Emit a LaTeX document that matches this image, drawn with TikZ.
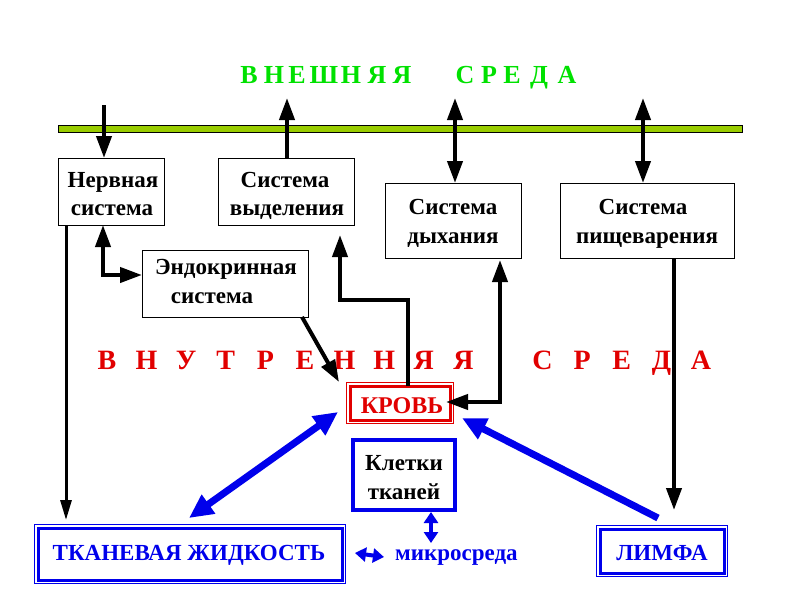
\documentclass[tikz,border=0pt]{standalone}
\usepackage{fontspec}
\setmainfont{Liberation Serif}
\usetikzlibrary{arrows.meta,calc}
\definecolor{grn}{RGB}{0,225,0}
\definecolor{redc}{RGB}{225,0,0}
\definecolor{blu}{RGB}{0,0,235}
\definecolor{barc}{RGB}{153,204,0}
\begin{document}
\begin{tikzpicture}[x=1pt,y=-1pt,
  box/.style={draw=black, line width=1pt, inner sep=0pt, outer sep=0pt},
  bt/.style={font=\fontsize{23}{28}\selectfont\bfseries, anchor=base, inner sep=0pt},
  ttl/.style={font=\fontsize{26}{30}\selectfont\bfseries, text=grn, anchor=base, inner sep=0pt},
  intl/.style={font=\fontsize{28}{32}\selectfont\bfseries, text=redc, anchor=base, inner sep=0pt},
  blk/.style={draw=black, line width=4pt, miter limit=10, >={Triangle[width=15pt,length=22pt]}},
  blkt/.style={draw=black, line width=3pt, >={Triangle[width=11pt,length=20pt]}},
  bl/.style={draw=blu, line width=7pt, >={Triangle[width=22pt,length=24pt]}},
  bsm/.style={draw=blu, line width=4pt, >={Triangle[width=14pt,length=11pt]}}
]
\useasboundingbox (0,0) rectangle (800,600);

% title
\foreach \x/\l [count=\i] in {249/В,274/Н,297/Е,324/Ш,351/Н,377/Я,402/Я,465/С,489/Р,512/Е,539/Д,567/А}
  \node[ttl] (ext\i) at (\x,83) {\l};

% inner environment title
\foreach \k/\l [count=\i] in {0/В,1/Н,2/У,3/Т,4/Р,5/Е,6/Н,7/Н,8/Я,9/Я,11/С,12/Р,13/Е,14/Д,15/А}
  \node[intl] (int\i) at ({107+39.6*\k},369) {\l};

% green bar
\node[draw=black, line width=1pt, fill=barc, inner sep=0pt, outer sep=0pt,
      minimum width=684pt, minimum height=7pt] (bar) at (400,128.5) {};

% boxes
\node[box, minimum width=106pt, minimum height=67pt] (nerv) at (111,191.5) {};
\node[box, minimum width=136pt, minimum height=67pt] (vyd) at (286,191.5) {};
\node[box, minimum width=136pt, minimum height=75pt] (dyh) at (453,220.5) {};
\node[box, minimum width=174pt, minimum height=75pt] (pish) at (647,220.5) {};
\node[box, minimum width=166pt, minimum height=67pt] (endo) at (225,283.5) {};

\node[bt] (nerv1) at (113,187) {Нервная};
\node[bt] (nerv2) at (112,215) {система};
\node[bt] (vyd1) at (285,187) {Система};
\node[bt] (vyd2) at (287,215) {выделения};
\node[bt] (dyh1) at (453,214) {Система};
\node[bt] (dyh2) at (453,243) {дыхания};
\node[bt] (pish1) at (643,214) {Система};
\node[bt] (pish2) at (647,243) {пищеварения};
\node[bt] (endo1) at (226,274) {Эндокринная};
\node[bt] (endo2) at (212,303) {система};

% blood
\node[draw=redc, line width=3pt, inner sep=0pt, outer sep=0pt,
      minimum width=100pt, minimum height=34pt] (krov) at (400,403) {};
\draw[redc, line width=1.2pt] ($(krov.north west)+(-3.5,-3.5)$) rectangle ($(krov.south east)+(3.5,3.5)$);
\node[bt, text=redc, font=\fontsize{24}{28}\selectfont\bfseries] (krovt) at (402,413) {КРОВЬ};

% cells
\node[draw=blu, line width=4pt, inner sep=0pt, outer sep=0pt,
      minimum width=102pt, minimum height=70pt] (klet) at (403.5,474.5) {};
\node[bt] (klet1) at (404,470) {Клетки};
\node[bt] (klet2) at (404,499) {тканей};

% tissue fluid
\node[draw=blu, line width=3pt, inner sep=0pt, outer sep=0pt,
      minimum width=304pt, minimum height=52pt] (tkan) at (190,554) {};
\draw[blu, line width=1.2pt] ($(tkan.north west)+(-3.5,-3.5)$) rectangle ($(tkan.south east)+(3.5,3.5)$);
\node[bt, text=blu] (tkant) at (189,560) {ТКАНЕВАЯ ЖИДКОСТЬ};

% lymph
\node[draw=blu, line width=3pt, inner sep=0pt, outer sep=0pt,
      minimum width=124pt, minimum height=44pt] (limf) at (662,551) {};
\draw[blu, line width=1.2pt] ($(limf.north west)+(-3.5,-3.5)$) rectangle ($(limf.south east)+(3.5,3.5)$);
\node[bt, text=blu] (limft) at (662,560) {ЛИМФА};

% microenvironment
\node[bt, text=blu, anchor=base west] (mikro) at (395,560) {микросреда};

% top connectors
\coordinate (a1) at (104,105);
\coordinate (a2) at (287,98);
\coordinate (a3) at (455,98);
\coordinate (a4) at (643,98);
\draw[blk,->] (a1) -- (a1 |- nerv.north);
\draw[blk,->] (a2 |- vyd.north) -- (a2);
\draw[blk,<->] (a3) -- (a3 |- dyh.north);
\draw[blk,<->] (a4) -- (a4 |- pish.north);

% nervous -> tissue fluid
\draw[blkt,->,shorten >=8pt] (nerv.south -| 66,0) -- (tkan.north -| 66,0);
% nervous <-> endocrine
\draw[blk,<->] (nerv.south -| 103,0) |- (endo.west |- 0,275);
% endocrine -> blood
\draw[blk,->] (endo.south -| 302,0) -- ($(krov.north west)+(-11,-4)$);
% blood -> excretion
\draw[blk,->,shorten >=10pt] (krov.north -| 408,0) |- (340,300) -- (vyd.south -| 340,0);
% respiration <-> blood
\draw[blk,<->,shorten <=-4pt,shorten >=2pt] (krov.east |- 0,402) -| (dyh.south -| 500,0);
% digestion -> lymph
\draw[blk,->,shorten >=19pt] (pish.south -| 674,0) -- (limf.north -| 674,0);

% blue connectors
\draw[bl,<->] ($(tkan.north)+(-1,-10)$) -- ($(krov.west)+(-12,9)$);
\draw[bl,->] ($(limf.north)+(-4,-11)$) -- ($(krov.east)+(12,15)$);
\draw[bsm,<->] ($(klet.south)+(27.5,2.5)$) -- ($(klet.south)+(27.5,33.5)$);
\draw[bsm,<->] ($(tkan.east)+(13,-1)$) -- ($(mikro.west)+(-11,0)$);
\end{tikzpicture}
\end{document}
